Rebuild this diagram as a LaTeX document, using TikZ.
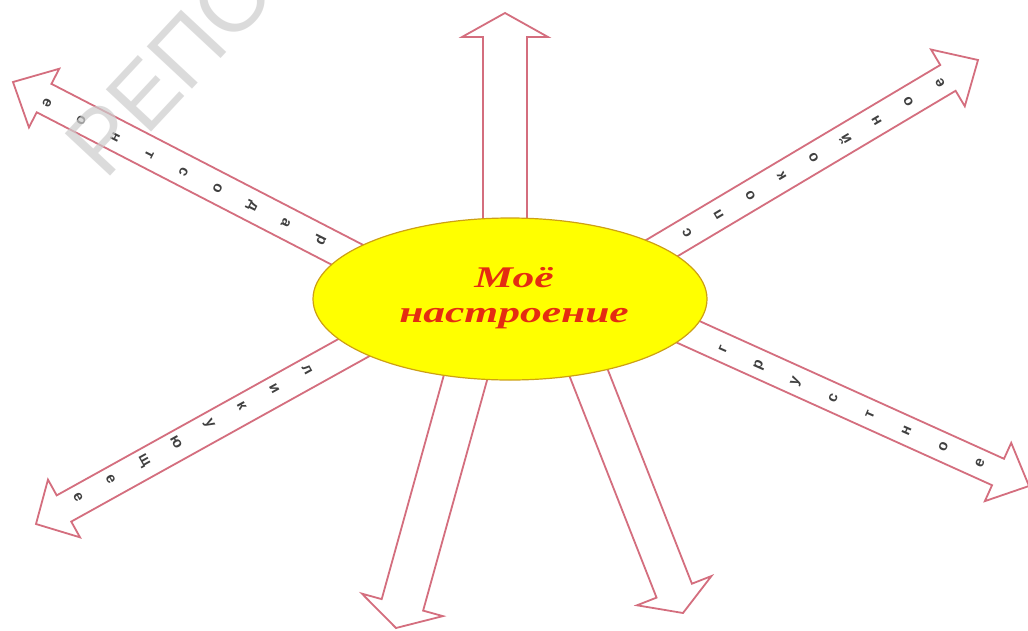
\documentclass[tikz,border=0pt]{standalone}
\usepackage{fontspec}
\setmainfont{Liberation Serif}
\newfontfamily\lsans{Liberation Sans}
\usetikzlibrary{calc,shapes.geometric}
\definecolor{arrowred}{RGB}{212,110,126}
\definecolor{moodred}{RGB}{228,44,18}
\definecolor{moodyellow}{RGB}{255,255,0}
\definecolor{moodedge}{RGB}{205,160,20}
\definecolor{wmgray}{RGB}{205,205,205}
\tikzset{
  blockarrow/.style={draw=arrowred, line width=1.8pt, fill=white, line join=miter},
  arrowletter/.style={font=\lsans\bfseries\fontsize{15}{15}\selectfont, text=black!75, inner sep=0pt},
}
% #1 base, #2 tip, #3 shaft half width, #4 head half width, #5 head length, #6 prefix
\newcommand\mkblockarrow[6]{%
  \coordinate (#6h) at ($(#2)!#5!(#1)$);
  \draw[blockarrow]
    ($(#1)!#3!90:(#2)$) -- ($(#6h)!#3!90:(#2)$) -- ($(#6h)!#4!90:(#2)$) -- (#2)
    -- ($(#6h)!#4!-90:(#2)$) -- ($(#6h)!#3!-90:(#2)$) -- ($(#1)!#3!-90:(#2)$) -- cycle;
}
\begin{document}
\begin{tikzpicture}[x=1pt,y=-1pt]
\clip (0,0) rectangle (1028,630);
\fill[white] (0,0) rectangle (1028,630);

% arrow end points
\coordinate (upB) at (505,300);  \coordinate (upT) at (505,13);
\coordinate (ulB) at (400,282);  \coordinate (ulT) at (13,82);
\coordinate (urB) at (620,273);  \coordinate (urT) at (978,60);
\coordinate (llB) at (400,322);  \coordinate (llT) at (36,524);
\coordinate (lrB) at (620,301);  \coordinate (lrT) at (1029,486);
\coordinate (dlB) at (487,300);  \coordinate (dlT) at (396,628);
\coordinate (drB) at (560,300);  \coordinate (drT) at (683,613);

\mkblockarrow{upB}{upT}{22pt}{43pt}{24pt}{up}
\mkblockarrow{ulB}{ulT}{16pt}{33pt}{35pt}{ul}
\mkblockarrow{urB}{urT}{15pt}{33pt}{35pt}{ur}
\mkblockarrow{llB}{llT}{15pt}{33pt}{32pt}{ll}
\mkblockarrow{lrB}{lrT}{14.5pt}{32pt}{34pt}{lr}
\mkblockarrow{dlB}{dlT}{21.5pt}{42pt}{24pt}{dl}
\mkblockarrow{drB}{drT}{19pt}{40pt}{24pt}{dr}

% central ellipse
\node[ellipse, draw=moodedge, line width=1.2pt, fill=moodyellow,
      minimum width=394pt, minimum height=162pt, inner sep=0pt] (mood) at (510,299) {};
\node[font=\bfseries\itshape\fontsize{30}{35}\selectfont, text=moodred, align=center]
  (moodtext) at (514,298) {\scalebox{1.45}[1]{Моё}\\\scalebox{1.45}[1]{настроение}};

% letters along the arrows
\coordinate (ulA) at (320,240); \coordinate (ulZ) at (47,103);
\foreach \ch [count=\i from 0] in {р,а,д,о,с,т,н,о,е}
  \node[arrowletter, rotate=-116.6] (ulL\i) at ($(ulA)!\i/8!(ulZ)$) {\ch};

\coordinate (urA) at (687,233); \coordinate (urZ) at (940,83);
\foreach \ch [count=\i from 0] in {с,п,о,к,о,й,н,о,е}
  \node[arrowletter, rotate=120.7] (urL\i) at ($(urA)!\i/8!(urZ)$) {\ch};

\coordinate (llA) at (307,370); \coordinate (llZ) at (78,497);
\foreach \ch [count=\i from 0] in {л,и,к,у,ю,щ,е,е}
  \node[arrowletter, rotate=-61] (llL\i) at ($(llA)!\i/7!(llZ)$) {\ch};

\coordinate (lrA) at (723,349); \coordinate (lrZ) at (980,463);
\foreach \ch [count=\i from 0] in {г,р,у,с,т,н,о,е}
  \node[arrowletter, rotate=66.3] (lrL\i) at ($(lrA)!\i/7!(lrZ)$) {\ch};

% watermark
\node[font=\lsans\fontsize{90}{90}\selectfont, text=wmgray, opacity=0.7,
      rotate=47, anchor=base west, inner sep=0pt] (wm) at (105,182) {РЕПОЗИТОРИЙ};
\end{tikzpicture}
\end{document}
